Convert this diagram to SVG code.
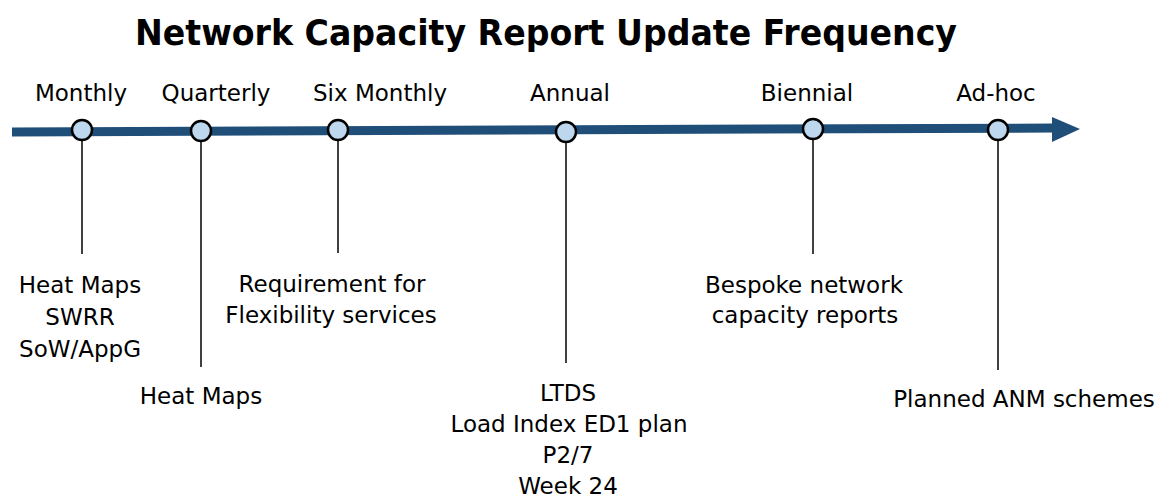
<svg xmlns="http://www.w3.org/2000/svg" width="1160" height="498" viewBox="0 0 1160 498">
<style>
text{font-family:"DejaVu Sans","Liberation Sans",sans-serif;font-size:23px;fill:#000;text-anchor:middle}
.title{font-size:36px;font-weight:bold}
.dot{fill:#bdd7ee;stroke:#000;stroke-width:2.5}
.tick{stroke:#000;stroke-width:1.5}
</style>
<rect width="1160" height="498" fill="#fff"/>
<text class="title" x="546" y="45" textLength="822" lengthAdjust="spacingAndGlyphs">Network Capacity Report Update Frequency</text>
<g id="timeline">
<line x1="12" y1="132" x2="1054" y2="128" stroke="#1f4e79" stroke-width="9"/>
<polygon points="1052,117 1080,129 1052,142" fill="#1f4e79"/>
</g>
<g id="connectors">
<line class="tick" x1="82" y1="140" x2="82" y2="254"/>
<line class="tick" x1="201" y1="141" x2="201" y2="367"/>
<line class="tick" x1="338" y1="140" x2="338" y2="253"/>
<line class="tick" x1="566" y1="142" x2="566" y2="363"/>
<line class="tick" x1="813" y1="139" x2="813" y2="254"/>
<line class="tick" x1="998" y1="140" x2="998" y2="370"/>
</g>
<g id="monthly">
<text x="81" y="101">Monthly</text>
<circle class="dot" cx="82" cy="130" r="10"/>
<text x="80" y="293">Heat Maps</text>
<text x="80" y="325">SWRR</text>
<text x="80" y="357">SoW/AppG</text>
</g>
<g id="quarterly">
<text x="216" y="101">Quarterly</text>
<circle class="dot" cx="201" cy="131" r="10"/>
<text x="201" y="404">Heat Maps</text>
</g>
<g id="six-monthly">
<text x="380" y="101">Six Monthly</text>
<circle class="dot" cx="338" cy="130" r="10"/>
<text x="332" y="292">Requirement for</text>
<text x="331" y="323">Flexibility services</text>
</g>
<g id="annual">
<text x="570" y="101">Annual</text>
<circle class="dot" cx="566" cy="132" r="10"/>
<text x="568" y="401">LTDS</text>
<text x="569" y="432">Load Index ED1 plan</text>
<text x="568" y="463">P2/7</text>
<text x="568" y="494">Week 24</text>
</g>
<g id="biennial">
<text x="807" y="101">Biennial</text>
<circle class="dot" cx="813" cy="129" r="10"/>
<text x="804" y="293">Bespoke network</text>
<text x="805" y="323">capacity reports</text>
</g>
<g id="ad-hoc">
<text x="996" y="101">Ad-hoc</text>
<circle class="dot" cx="998" cy="130" r="10"/>
<text x="1024" y="407">Planned ANM schemes</text>
</g>
</svg>
